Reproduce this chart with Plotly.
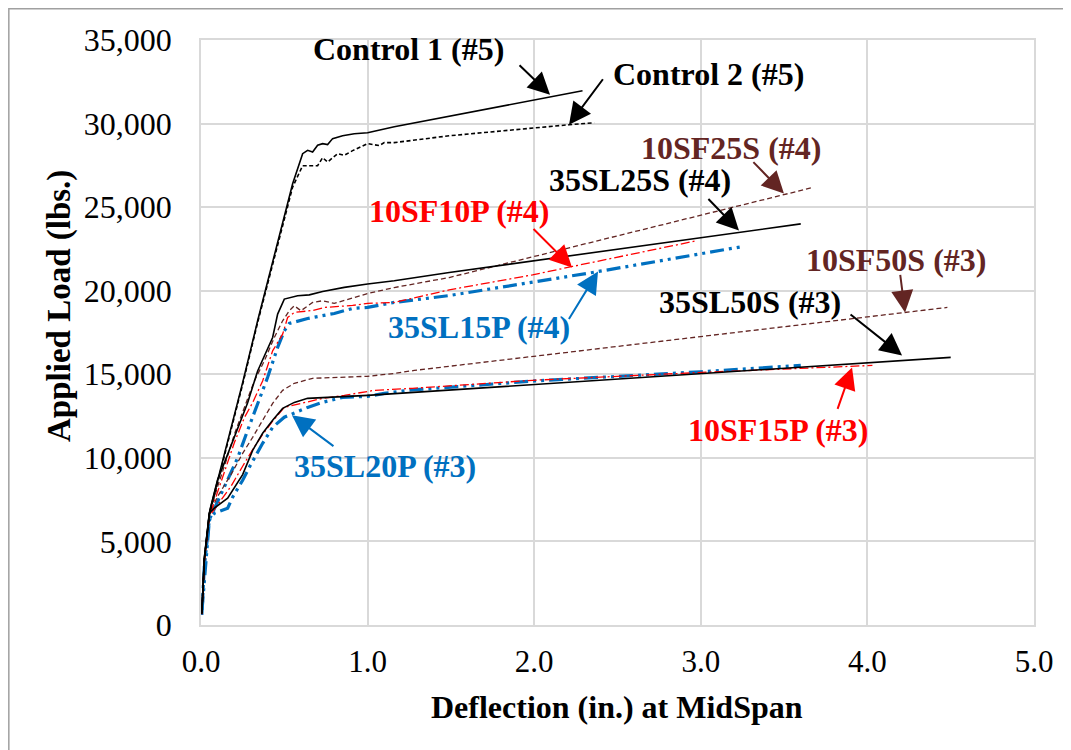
import plotly.graph_objects as go

# ---------------- data (deflection in., load lbs.) ----------------
ctrl1_x = [0.005, 0.02, 0.05, 0.15, 0.25, 0.34, 0.45, 0.55, 0.61, 0.64, 0.67, 0.70, 0.73, 0.76, 0.79, 0.85, 0.92, 1.0, 1.16, 2.29]
ctrl1_y = [700, 4000, 6700, 10600, 14500, 18200, 22500, 26400, 28200, 28400, 28300, 28700, 28800, 28740, 29100, 29270, 29390, 29450, 29810, 31960]

ctrl2_x = [0.005, 0.02, 0.05, 0.15, 0.25, 0.34, 0.45, 0.55, 0.61, 0.66, 0.70, 0.73, 0.76, 0.82, 0.86, 0.91, 1.0, 1.07, 1.10, 1.16, 1.49, 2.21, 2.36]
ctrl2_y = [650, 3900, 6600, 10500, 14400, 18100, 22400, 26200, 27480, 27500, 27480, 27960, 27700, 28200, 28100, 28380, 28800, 28680, 28860, 28860, 29270, 29930, 30050]

sl25s_x = [0.005, 0.02, 0.054, 0.10, 0.14, 0.20, 0.28, 0.34, 0.43, 0.46, 0.50, 0.58, 0.65, 0.73, 0.86, 1.0, 1.16, 1.49, 3.60]
sl25s_y = [700, 4000, 6900, 8700, 9700, 11200, 13300, 15200, 17200, 18600, 19500, 19700, 19750, 19950, 20200, 20400, 20600, 21090, 24000]

sf25s_x = [0.005, 0.02, 0.05, 0.10, 0.15, 0.20, 0.26, 0.32, 0.38, 0.44, 0.49, 0.53, 0.56, 0.60, 0.67, 0.73, 0.80, 0.91, 1.0, 1.16, 1.49, 3.67]
sf25s_y = [700, 3800, 6600, 8300, 9800, 11400, 13000, 14600, 15800, 17200, 18200, 18800, 19100, 18800, 19300, 19400, 19240, 19540, 19830, 20190, 20790, 26170]

sf10p_x = [0.005, 0.02, 0.05, 0.10, 0.15, 0.20, 0.26, 0.31, 0.37, 0.43, 0.49, 0.52, 0.56, 0.67, 0.74, 0.91, 1.0, 1.16, 1.49, 1.99, 2.23, 2.98]
sf10p_y = [650, 3800, 6500, 8000, 9400, 10900, 12400, 13300, 14600, 16400, 17400, 18400, 18700, 18820, 19000, 19120, 19240, 19300, 20050, 20950, 21450, 23000]

sl15p_x = [0.005, 0.02, 0.05, 0.10, 0.16, 0.22, 0.28, 0.34, 0.40, 0.46, 0.50, 0.53, 0.64, 0.80, 0.91, 1.0, 1.16, 1.49, 2.35, 3.25]
sl15p_y = [600, 3500, 6300, 7400, 8700, 10000, 11650, 13260, 14820, 16610, 17600, 18040, 18340, 18640, 18940, 19000, 19300, 19710, 21090, 22640]

sl50s_x = [0.005, 0.02, 0.05, 0.08, 0.16, 0.25, 0.31, 0.37, 0.43, 0.49, 0.56, 0.64, 0.76, 0.85, 1.0, 4.50]
sl50s_y = [700, 3900, 6700, 6990, 7590, 9000, 10450, 11470, 12250, 12960, 13320, 13560, 13620, 13680, 13740, 16010]

sl20p_x = [0.006, 0.024, 0.05, 0.08, 0.16, 0.19, 0.25, 0.29, 0.37, 0.43, 0.50, 0.64, 0.73, 0.85, 1.0, 1.10, 1.24, 2.0, 3.0, 3.6]
sl20p_y = [900, 3290, 6270, 6690, 6990, 7650, 8660, 9440, 10870, 11830, 12430, 13020, 13320, 13620, 13680, 13860, 14040, 14600, 15150, 15530]

sf15p_x = [0.005, 0.02, 0.05, 0.10, 0.18, 0.25, 0.31, 0.37, 0.43, 0.50, 0.62, 0.73, 0.86, 1.04, 1.27, 1.99, 3.0, 4.03]
sf15p_y = [650, 3800, 6500, 7200, 8300, 9500, 10500, 11400, 12200, 13020, 13320, 13560, 13740, 14040, 14160, 14640, 15110, 15530]

sf50s_x = [0.005, 0.02, 0.05, 0.10, 0.18, 0.25, 0.31, 0.37, 0.43, 0.49, 0.56, 0.67, 0.80, 0.86, 1.0, 1.16, 1.28, 4.48]
sf50s_y = [700, 3900, 6600, 7700, 9000, 10270, 11230, 12250, 13260, 14040, 14460, 14760, 14800, 14820, 14880, 15050, 15230, 19000]

x_ticks = [0, 1, 2, 3, 4, 5]
y_ticks = [0, 5000, 10000, 15000, 20000, 25000, 30000, 35000]

x_title = "Deflection (in.) at MidSpan"
y_title = "Applied Load (lbs.)"

# ---------------- styles ----------------
BLACK = "#000000"
BROWN = "#632523"
RED = "#ff0000"
BLUE = "#0070c0"
FONT = "Liberation Serif"

styles = {
    "blue": dict(color=BLUE, width=3.2, dash="14px,5px,3px,5px,3px,5px"),
    "brown": dict(color=BROWN, width=1.3, dash="5px,3px"),
    "red": dict(color=RED, width=1.3, dash="9px,3px,2px,3px"),
    "black": dict(color=BLACK, width=1.6),
    "blackdash": dict(color=BLACK, width=1.6, dash="4px,2.5px"),
}

series = [
    ("35SL15P (#4)", sl15p_x, sl15p_y, "blue"),
    ("35SL20P (#3)", sl20p_x, sl20p_y, "blue"),
    ("10SF25S (#4)", sf25s_x, sf25s_y, "brown"),
    ("10SF50S (#3)", sf50s_x, sf50s_y, "brown"),
    ("10SF10P (#4)", sf10p_x, sf10p_y, "red"),
    ("10SF15P (#3)", sf15p_x, sf15p_y, "red"),
    ("35SL25S (#4)", sl25s_x, sl25s_y, "black"),
    ("35SL50S (#3)", sl50s_x, sl50s_y, "black"),
    ("Control 2 (#5)", ctrl2_x, ctrl2_y, "blackdash"),
    ("Control 1 (#5)", ctrl1_x, ctrl1_y, "black"),
]

fig = go.Figure()
for name, xs, ys, st in series:
    fig.add_trace(go.Scatter(x=xs, y=ys, mode="lines", name=name,
                             line=styles[st], showlegend=False, hoverinfo="skip"))

# ---------------- labels with arrows ----------------
# (text, color, text_x, text_y, tip_x, tip_y, tail_dx_px, tail_dy_px)
labels = [
    ("Control 1 (#5)", BLACK, 1.248, 34470, 2.095, 31720, -32, -31),
    ("Control 2 (#5)", BLACK, 3.049, 32980, 2.209, 29930, 35, -47),
    ("10SF25S (#4)", BROWN, 3.181, 28560, 3.499, 25810, -32, -33),
    ("35SL25S (#4)", BLACK, 2.635, 26640, 3.229, 23600, -32, -33),
    ("10SF10P (#4)", RED, 1.549, 24790, 2.227, 21390, -40, -40),
    ("35SL15P (#4)", BLUE, 1.669, 17800, 2.383, 21150, -30, 49),
    ("10SF50S (#3)", BROWN, 4.172, 21810, 4.226, 18700, -5, -39),
    ("35SL50S (#3)", BLACK, 3.295, 19300, 4.208, 16130, -53, -42),
    ("10SF15P (#3)", RED, 3.463, 11650, 3.908, 15410, -15, 43),
    ("35SL20P (#3)", BLUE, 1.104, 9500, 0.546, 12550, 43, 32),
]
for text, col, tx, ty, ax_, ay_, dx, dy in labels:
    fig.add_annotation(x=tx, y=ty, text="<b>%s</b>" % text, showarrow=False,
                       font=dict(family=FONT, size=32, color=col),
                       xanchor="center", yanchor="middle")
    fig.add_annotation(x=ax_, y=ay_, text="", showarrow=True, ax=dx, ay=dy,
                       arrowhead=2, arrowsize=2.2, arrowwidth=2, arrowcolor=col)

# axis titles placed as annotations (paper coordinates)
fig.add_annotation(xref="paper", yref="paper", x=0.4994, y=-0.1402,
                   text="<b>%s</b>" % x_title, showarrow=False,
                   font=dict(family=FONT, size=32, color=BLACK),
                   xanchor="center", yanchor="middle")
fig.add_annotation(xref="paper", yref="paper", x=-0.1693, y=0.5453,
                   text="<b>%s</b>" % y_title, showarrow=False, textangle=-90,
                   font=dict(family=FONT, size=33, color=BLACK),
                   xanchor="center", yanchor="middle")

# outer chart border
fig.add_shape(type="rect", xref="paper", yref="paper",
              x0=-0.2307, x1=1.08, y0=-0.25, y1=1.0534,
              line=dict(color="#a0a0a0", width=1.5), fillcolor="rgba(0,0,0,0)",
              layer="below")

GRID = "#d9d9d9"
fig.update_xaxes(range=[0, 5], tickvals=x_ticks, tickformat=".1f",
                 showgrid=True, gridcolor=GRID, gridwidth=1.5,
                 showline=True, linecolor=GRID, linewidth=1.5, mirror=True,
                 zeroline=False, ticks="", ticklabelstandoff=8,
                 tickfont=dict(family=FONT, size=31, color="#000000"))
fig.update_yaxes(range=[0, 35000], tickvals=y_ticks, tickformat=",d",
                 showgrid=True, gridcolor=GRID, gridwidth=1.5,
                 showline=True, linecolor=GRID, linewidth=1.5, mirror=True,
                 zeroline=False, ticks="", ticklabelstandoff=21,
                 tickfont=dict(family=FONT, size=32, color="#000000"))

fig.update_layout(width=1063, height=742,
                  margin=dict(l=193, r=37, t=32, b=125),
                  paper_bgcolor="white", plot_bgcolor="white",
                  showlegend=False)

fig.write_html("out.html")
